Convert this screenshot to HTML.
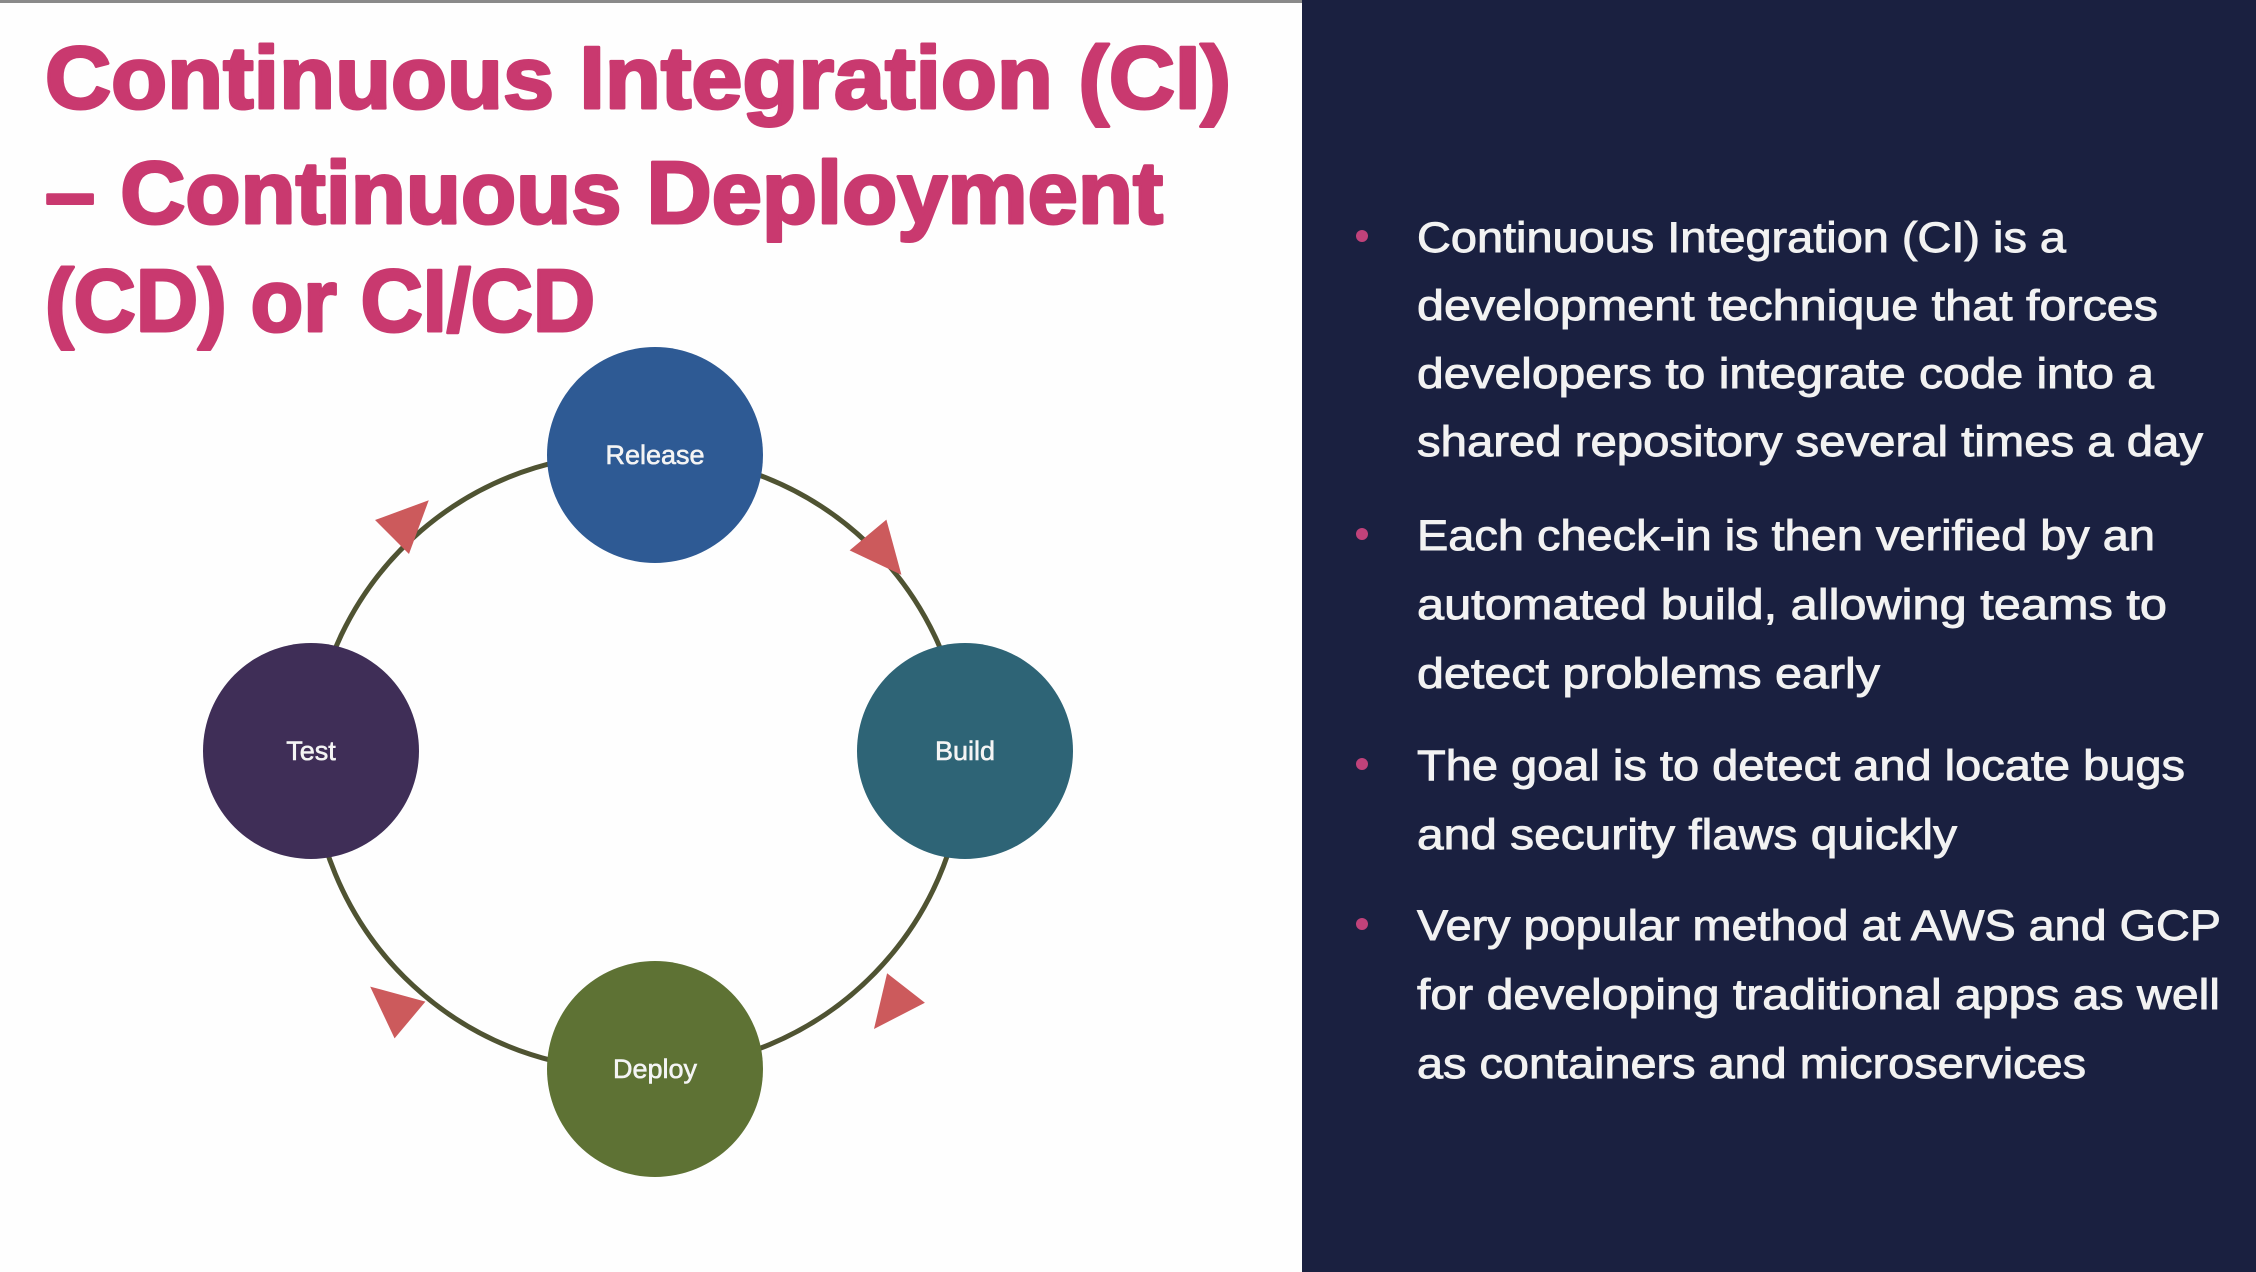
<!DOCTYPE html>
<html><head><meta charset="utf-8"><style>
html,body{margin:0;padding:0;width:2256px;height:1272px;overflow:hidden;background:#fff}
</style></head><body>
<svg width="2256" height="1272" viewBox="0 0 2256 1272" xmlns="http://www.w3.org/2000/svg">
<rect x="0" y="0" width="1302" height="1272" fill="#fefefe"/>
<rect x="1302" y="0" width="954" height="1272" fill="#1a2040"/>
<rect x="0" y="0" width="1302" height="3" fill="#8a8a8a"/>
<g font-family="Liberation Sans, sans-serif" font-weight="bold" font-size="88" fill="#c9396f" stroke="#c9396f" stroke-width="3" stroke-linejoin="round">
<text x="45" y="108" textLength="1186" lengthAdjust="spacingAndGlyphs">Continuous Integration (CI)</text>
<text x="45" y="223" textLength="1118" lengthAdjust="spacingAndGlyphs">– Continuous Deployment</text>
<text x="45" y="331" textLength="550" lengthAdjust="spacingAndGlyphs">(CD) or CI/CD</text>
</g>
<g fill="none" stroke="#4f5332" stroke-width="5">
<path d="M655 455 A318 318 0 0 1 965 751"/>
<path d="M965 751 A318 318 0 0 1 655 1069"/>
<path d="M655 1069 A318 318 0 0 1 311 751"/>
<path d="M311 751 A318 318 0 0 1 655 455"/>
</g>
<g fill="#cc5a5c">
<polygon points="0,-24 0,24 52,0" transform="translate(868,535) rotate(50)"/>
<polygon points="0,-24 0,24 52,0" transform="translate(906,988) rotate(128)"/>
<polygon points="0,-24 0,24 52,0" transform="translate(410,1020) rotate(-140)"/>
<polygon points="0,-24 0,24 52,0" transform="translate(392,537) rotate(-45)"/>
</g>
<circle cx="655" cy="455" r="108" fill="#2e5a94"/>
<circle cx="965" cy="751" r="108" fill="#2e6476"/>
<circle cx="311" cy="751" r="108" fill="#3f2e57"/>
<circle cx="655" cy="1069" r="108" fill="#5e7234"/>
<g font-family="Liberation Sans, sans-serif" font-size="27" fill="#f4f4f4" stroke="#f4f4f4" stroke-width="0.6" text-anchor="middle">
<text x="655" y="464">Release</text>
<text x="965" y="760">Build</text>
<text x="311" y="760">Test</text>
<text x="655" y="1078">Deploy</text>
</g>
<g fill="#c0427a">
<circle cx="1362" cy="236" r="6"/>
<circle cx="1362" cy="534" r="6"/>
<circle cx="1362" cy="764" r="6"/>
<circle cx="1362" cy="924" r="6"/>
</g>
<g font-family="Liberation Sans, sans-serif" font-size="43" fill="#f2f2f2" stroke="#f2f2f2" stroke-width="0.9">
<text x="1417" y="252" textLength="649" lengthAdjust="spacingAndGlyphs">Continuous Integration (CI) is a</text>
<text x="1417" y="320" textLength="741" lengthAdjust="spacingAndGlyphs">development technique that forces</text>
<text x="1417" y="388" textLength="737" lengthAdjust="spacingAndGlyphs">developers to integrate code into a</text>
<text x="1417" y="456" textLength="786" lengthAdjust="spacingAndGlyphs">shared repository several times a day</text>
<text x="1417" y="550" textLength="738" lengthAdjust="spacingAndGlyphs">Each check-in is then verified by an</text>
<text x="1417" y="619" textLength="750" lengthAdjust="spacingAndGlyphs">automated build, allowing teams to</text>
<text x="1417" y="688" textLength="463" lengthAdjust="spacingAndGlyphs">detect problems early</text>
<text x="1417" y="780" textLength="768" lengthAdjust="spacingAndGlyphs">The goal is to detect and locate bugs</text>
<text x="1417" y="849" textLength="540" lengthAdjust="spacingAndGlyphs">and security flaws quickly</text>
<text x="1417" y="940" textLength="804" lengthAdjust="spacingAndGlyphs">Very popular method at AWS and GCP</text>
<text x="1417" y="1009" textLength="803" lengthAdjust="spacingAndGlyphs">for developing traditional apps as well</text>
<text x="1417" y="1078" textLength="669" lengthAdjust="spacingAndGlyphs">as containers and microservices</text>
</g>
</svg>
</body></html>
